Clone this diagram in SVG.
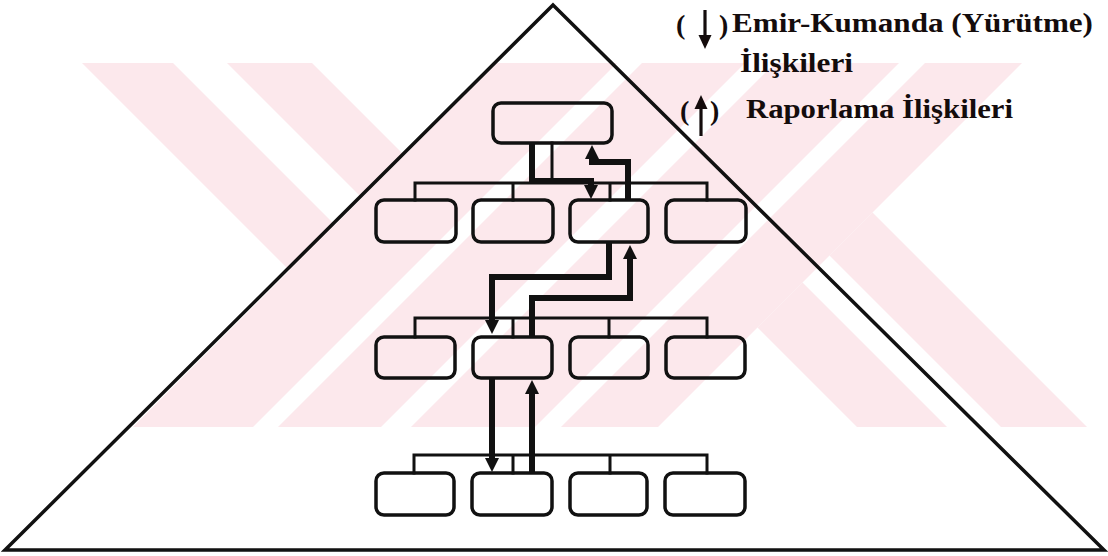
<svg xmlns="http://www.w3.org/2000/svg" width="1108" height="556" viewBox="0 0 1108 556">
  <style>
    .wm { fill: #fce8ec; }
    .frame { fill: none; stroke: #111; stroke-width: 3.5; stroke-linejoin: miter; }
    .unit { fill: none; stroke: #111; stroke-width: 3.5; }
    .tie { fill: none; stroke: #111; stroke-width: 3; stroke-linecap: square; }
    .cmd, .rep { fill: none; stroke: #111; stroke-width: 6; stroke-linejoin: miter; }
    .cmd { marker-end: url(#headDown); }
    .rep { marker-end: url(#headUp); }
    .legend { font-family: "Liberation Serif", "DejaVu Serif", serif; font-size: 28px; font-weight: bold; fill: #140c0c; }
    .key { fill: none; stroke: #140c0c; stroke-width: 3.2; }
  </style>
  <defs>
    <marker id="headDown" viewBox="0 0 14 14" markerWidth="14" markerHeight="14" markerUnits="userSpaceOnUse" refX="4" refY="7" orient="auto">
      <path d="M0,0 L14,7 L0,14 z" fill="#111"/>
    </marker>
    <marker id="headUp" viewBox="0 0 14 14" markerWidth="14" markerHeight="14" markerUnits="userSpaceOnUse" refX="4" refY="7" orient="auto">
      <path d="M0,0 L14,7 L0,14 z" fill="#111"/>
    </marker>
    <marker id="keyHead" viewBox="0 0 14 14" markerWidth="14" markerHeight="14" markerUnits="userSpaceOnUse" refX="3" refY="7" orient="auto">
      <path d="M0,0.5 L14,7 L0,13.5 z" fill="#140c0c"/>
    </marker>
  </defs>

  <!-- faint striped background emblem -->
  <g id="emblem">
    <!-- upper-left arm -->
    <polygon class="wm" points="82,63 173,63 335,225 289.5,270.5"/>
    <polygon class="wm" points="227,63 312,63 404.5,155.5 362,198"/>
    <!-- central band -->
    <polygon class="wm" points="497,63 617,63 253,427 133,427"/>
    <polygon class="wm" points="642,63 745,63 381,427 278,427"/>
    <polygon class="wm" points="775,63 899,63 535,427 411,427"/>
    <polygon class="wm" points="925,63 1022,63 658,427 561,427"/>
    <!-- lower-right arm -->
    <polygon class="wm" points="757.5,327.5 802.5,282.5 947,427 857,427"/>
    <polygon class="wm" points="829.5,255.5 872.5,212.5 1087,427 1001,427"/>
  </g>

  <!-- pyramid outline -->
  <polygon id="pyramid" class="frame" points="553,5 1104,550 5,550"/>

  <!-- organisation units -->
  <g id="top"><rect class="unit" x="493" y="103" width="119" height="40" rx="8"/></g>

  <g id="l1a"><rect class="unit" x="376" y="200" width="80" height="42" rx="8"/></g>
  <g id="l1b"><rect class="unit" x="473" y="200" width="80" height="42" rx="8"/></g>
  <g id="l1c"><rect class="unit" x="570" y="200" width="78" height="42" rx="8"/></g>
  <g id="l1d"><rect class="unit" x="666" y="200" width="80" height="42" rx="8"/></g>

  <g id="l2a"><rect class="unit" x="376" y="337" width="79" height="41" rx="8"/></g>
  <g id="l2b"><rect class="unit" x="473" y="337" width="79" height="41" rx="8"/></g>
  <g id="l2c"><rect class="unit" x="570" y="337" width="78" height="41" rx="8"/></g>
  <g id="l2d"><rect class="unit" x="666" y="337" width="79" height="41" rx="8"/></g>

  <g id="l3a"><rect class="unit" x="376" y="473" width="78" height="42" rx="8"/></g>
  <g id="l3b"><rect class="unit" x="472" y="473" width="80" height="42" rx="8"/></g>
  <g id="l3c"><rect class="unit" x="570" y="473" width="77" height="42" rx="8"/></g>
  <g id="l3d"><rect class="unit" x="665" y="473" width="80" height="42" rx="8"/></g>

  <g id="connectors">
    <!-- hierarchy ties -->
    <path class="tie" d="M552,143 V183 M415,183 H707 M415,183 V200 M513,183 V200 M610,183 V200 M707,183 V200"/>
    <path class="tie" d="M415,318 H707 M415,318 V337 M513,318 V337 M609,318 V337 M707,318 V337"/>
    <path class="tie" d="M414,455 H707 M414,455 V473 M513,455 V473 M610,455 V473 M707,455 V473"/>

    <!-- command (downward) lines -->
    <path class="cmd" d="M532,143 V181 H591 V189"/>
    <path class="cmd" d="M609,242 V277 H492 V324"/>
    <path class="cmd" d="M492,378 V462"/>

    <!-- reporting (upward) lines -->
    <path class="rep" d="M628,200 V162 H592 V155"/>
    <path class="rep" d="M532,337 V298 H630 V255"/>
    <path class="rep" d="M532,473 V390"/>
  </g>

  <!-- key -->
  <g id="legend">
    <text class="legend" x="676" y="34">(</text>
    <line class="key" x1="705" y1="10" x2="705" y2="38" marker-end="url(#keyHead)"/>
    <text class="legend" x="719" y="34">)</text>
    <text class="legend" x="732" y="32" textLength="361" lengthAdjust="spacingAndGlyphs">Emir-Kumanda (Yürütme)</text>
    <text class="legend" x="740" y="72" textLength="113" lengthAdjust="spacingAndGlyphs">İlişkileri</text>
    <text class="legend" x="680" y="120">(</text>
    <line class="key" x1="701" y1="136" x2="701" y2="106" marker-end="url(#keyHead)"/>
    <text class="legend" x="710" y="120">)</text>
    <text class="legend" x="746" y="118" textLength="267" lengthAdjust="spacingAndGlyphs">Raporlama İlişkileri</text>
  </g>
</svg>
